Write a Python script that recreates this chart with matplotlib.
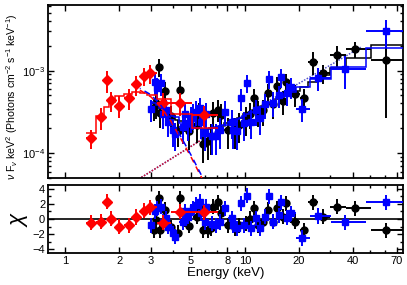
import numpy as np
import matplotlib
matplotlib.use("Agg")
import matplotlib.pyplot as plt
from matplotlib.ticker import FixedLocator, NullFormatter, LogLocator, MultipleLocator

plt.rcParams["font.family"] = ["Liberation Sans", "DejaVu Sans"]
plt.rcParams["mathtext.fontset"] = "custom"
plt.rcParams["mathtext.rm"] = "Liberation Sans"
plt.rcParams["mathtext.it"] = "Liberation Sans:italic"

# red data set (low energy instrument)
red_E = [1.39, 1.57, 1.70, 1.80, 1.99, 2.25, 2.48, 2.73, 2.96, 3.50, 4.33, 5.93]
red_F = [1.51e-4, 2.73e-4, 7.6e-4, 4.36e-4, 3.77e-4, 4.68e-4, 6.8e-4, 8.6e-4,
         9.3e-4, 4.07e-4, 4.07e-4, 2.88e-4]
red_frac = [0.25, 0.3, 0.3, 0.28, 0.3, 0.28, 0.28, 0.25, 0.25, 0.3, 0.3, 0.28]
red_model = [1.75e-4, 2.8e-4, 3.6e-4, 4.2e-4, 4.9e-4, 5.2e-4, 5.5e-4, 5.4e-4,
             5.1e-4, 4.5e-4, 3.0e-4, 2.0e-4]
red_chi = [-0.5, -0.35, 2.3, 0.05, -1.0, -0.8, 0.27, 1.07, 1.55, -0.5, 0.97, 0.9]
red_lims = (1.30, 7.1)

# black data set
blk_E = [3.11, 3.21, 3.31, 3.35, 3.61, 3.89, 4.24, 4.33, 4.88, 5.39, 5.53, 5.85,
         6.24, 6.46, 6.65, 7.09, 7.34, 8.07, 8.80, 9.30, 10.13, 10.67, 11.23,
         11.87, 12.65, 13.39, 14.28, 15.15, 16.24, 16.95, 19.02, 21.4, 23.9,
         27.4, 32.8, 41.2, 61.3]
blk_F = [3.5e-4, 4.0e-4, 1.12e-3, 3.1e-4, 5.6e-4, 2.8e-4, 1.85e-4, 5.75e-4,
         1.85e-4, 2.2e-4, 3.0e-4, 1.28e-4, 1.4e-4, 1.6e-4, 3.08e-4, 3.37e-4,
         2.94e-4, 1.9e-4, 1.9e-4, 2.2e-4, 2.6e-4, 3.0e-4, 4.6e-4, 3.2e-4,
         3.3e-4, 5.35e-4, 3.9e-4, 6.6e-4, 4.3e-4, 7.2e-4, 5.2e-4, 4.66e-4,
         1.28e-3, 9.3e-4, 1.54e-3, 1.81e-3, 1.34e-3]
blk_frac = [0.3, 0.35, 0.25, 0.35, 0.3, 0.35, 0.35, 0.3, 0.4, 0.4, 0.35, 0.4,
            0.4, 0.4, 0.35, 0.3, 0.35, 0.4, 0.4, 0.4, 0.38, 0.35, 0.3, 0.35,
            0.35, 0.3, 0.33, 0.28, 0.33, 0.28, 0.3, 0.28, 0.3, 0.25, 0.28,
            0.22, 0.8]
blk_model = [4.0e-4, 3.8e-4, 3.6e-4, 3.5e-4, 3.1e-4, 2.8e-4, 2.5e-4, 2.45e-4,
             2.15e-4, 2.05e-4, 2.0e-4, 1.98e-4, 1.98e-4, 2.0e-4, 2.02e-4,
             2.1e-4, 2.15e-4, 2.35e-4, 2.55e-4, 2.7e-4, 2.95e-4, 3.1e-4,
             3.3e-4, 3.5e-4, 3.7e-4, 3.95e-4, 4.2e-4, 4.5e-4, 4.85e-4, 5.05e-4,
             5.7e-4, 6.4e-4, 7.2e-4, 8.9e-4, 1.09e-3, 1.41e-3, 2.07e-3]
blk_chi = [-1.47, -0.13, 2.76, -1.47, 1.2, -1.1, -1.8, 2.76, -0.9, 0.3, 1.5,
           -1.47, -1.47, -1.2, 1.64, 2.2, 0.76, -0.8, -1.24, -0.8, -0.6, 0.0,
           1.43, -0.8, -0.36, 1.2, -0.36, 1.43, 0.3, 2.1, -0.36, -1.47, 2.2,
           0.3, 1.64, 1.43, -1.47]
blk_lims = (3.02, 78.0)

# blue data set
blu_E = [3.01, 3.14, 3.24, 3.42, 3.50, 3.65, 3.73, 3.98, 4.06, 4.52, 4.62,
         4.80, 5.04, 5.14, 5.37, 5.60, 5.73, 5.98, 6.11, 6.54, 6.89, 7.25,
         7.73, 8.43, 8.61, 9.06, 9.47, 9.87, 10.3, 10.8, 11.6, 12.2, 12.9,
         13.7, 14.4, 15.4, 16.0, 17.2, 18.1, 20.7, 25.4, 36.2, 61.3]
blu_F = [3.4e-4, 7.3e-4, 6.2e-4, 7.0e-4, 3.0e-4, 3.3e-4, 2.4e-4, 1.9e-4,
         1.7e-4, 2.1e-4, 3.0e-4, 2.3e-4, 2.7e-4, 2.9e-4, 3.2e-4, 3.5e-4,
         2.4e-4, 1.75e-4, 3.0e-4, 1.6e-4, 1.6e-4, 1.9e-4, 3.2e-4, 2.4e-4,
         1.9e-4, 1.85e-4, 4.66e-4, 2.3e-4, 7.06e-4, 2.4e-4, 3.3e-4, 2.7e-4,
         3.9e-4, 7.9e-4, 4.1e-4, 5.0e-4, 8.3e-4, 5.4e-4, 6.3e-4, 3.46e-4,
         8.2e-4, 1.04e-3, 3.0e-3]
blu_frac = [0.3, 0.3, 0.3, 0.3, 0.35, 0.35, 0.35, 0.38, 0.38, 0.38, 0.35,
            0.38, 0.35, 0.35, 0.33, 0.33, 0.38, 0.4, 0.35, 0.4, 0.4, 0.4,
            0.33, 0.38, 0.4, 0.4, 0.3, 0.38, 0.25, 0.38, 0.35, 0.38, 0.33,
            0.25, 0.33, 0.3, 0.25, 0.3, 0.28, 0.3, 0.3, 0.43, 0.37]
blu_model = [4.2e-4, 4.0e-4, 3.8e-4, 3.5e-4, 3.4e-4, 3.2e-4, 3.1e-4, 2.85e-4,
             2.75e-4, 2.35e-4, 2.3e-4, 2.2e-4, 2.1e-4, 2.08e-4, 2.03e-4,
             2.0e-4, 1.98e-4, 1.97e-4, 1.97e-4, 2.0e-4, 2.05e-4, 2.12e-4,
             2.22e-4, 2.4e-4, 2.45e-4, 2.6e-4, 2.7e-4, 2.85e-4, 3.0e-4,
             3.15e-4, 3.4e-4, 3.6e-4, 3.8e-4, 4.05e-4, 4.3e-4, 4.6e-4, 4.8e-4,
             5.2e-4, 5.5e-4, 6.3e-4, 7.9e-4, 1.1e-3, 1.9e-3]
blu_chi = [-0.8, 1.0, 1.43, 1.64, -0.36, 0.1, -1.0, -1.9, -2.36, -0.4, 1.0,
           0.3, 1.0, 1.43, 1.87, 2.3, 0.8, -0.4, 1.64, -0.6, -0.8, -0.4, 1.43,
           0.1, -0.8, -1.24, 2.1, -0.8, 3.1, -1.24, 0.1, -1.24, 0.3, 3.0,
           -0.36, 0.5, 2.2, 0.2, 0.76, -2.5, 0.4, -0.45, 2.2]
blu_lims = (2.95, 78.0)

# model components
bb_E = [2.6, 3.0, 3.4, 3.81, 4.52, 5.04, 5.73, 6.2]
bb_red = [5.8e-4, 4.8e-4, 3.6e-4, 2.6e-4, 1.35e-4, 8.8e-5, 5.1e-5, 3.3e-5]
bb_blue = [6.1e-4, 5.1e-4, 3.8e-4, 2.75e-4, 1.43e-4, 9.3e-5, 5.4e-5, 3.5e-5]
pl_E = [2.65, 5.6, 28.0, 44.7]
pl_F = [5.1e-5, 1.41e-4, 1.07e-3, 1.94e-3]

x_ticks = [1, 2, 3, 5, 8, 10, 20, 40, 70]
x_minor = [4, 6, 7, 9, 30, 50, 60]


def bin_edges(E, lims):
    E = np.asarray(E)
    mids = np.sqrt(E[:-1] * E[1:])
    return np.concatenate([[lims[0]], mids, [lims[1]]])


fig = plt.figure(figsize=(4.07, 2.85), dpi=100)
ax = fig.add_axes([0.118, 0.375, 0.872, 0.607])
axr = fig.add_axes([0.118, 0.112, 0.872, 0.239], sharex=ax)

sets = [
    (blk_E, blk_F, blk_frac, blk_model, blk_chi, blk_lims, "black", "o", 3),
    (blu_E, blu_F, blu_frac, blu_model, blu_chi, blu_lims, "#0000ff", "s", 4),
    (red_E, red_F, red_frac, red_model, red_chi, red_lims, "#ff0000", "D", 6),
]

for E, F, frac, model, chi, lims, col, mk, z in sets:
    E = np.asarray(E)
    F = np.asarray(F)
    edges = bin_edges(E, lims)
    xerr = [E - edges[:-1], edges[1:] - E]
    ax.errorbar(E, F, xerr=xerr, yerr=F * np.asarray(frac), fmt=mk, color=col,
                ms=5, elinewidth=1.4, capsize=0, zorder=z)
    ax.stairs(model, edges, baseline=None, color=col, lw=1.1, zorder=z + 0.5)
    axr.errorbar(E, chi, xerr=xerr, yerr=1.0, fmt=mk, color=col,
                 ms=5, elinewidth=1.4, capsize=0, zorder=z)

ax.plot(bb_E, bb_red, color="#ff0000", lw=1.1, ls=(0, (4, 3)), zorder=7)
ax.plot(bb_E, bb_blue, color="#0000ff", lw=1.1, ls=(3.5, (4, 3)), zorder=7)
ax.plot(pl_E, pl_F, color="#5050c8", lw=1.1, ls=(0, (1, 1)), zorder=2)
ax.plot(pl_E[:2], pl_F[:2], color="#d01030", lw=1.1, ls=(0, (1, 1)), zorder=2.5)

axr.axhline(0, color="black", lw=1.2, zorder=2)

ax.set_xscale("log")
ax.set_yscale("log")
ax.set_xlim(0.8, 76)
ax.set_ylim(5e-5, 6.2e-3)
axr.set_ylim(-4.5, 4.5)

axr.xaxis.set_major_locator(FixedLocator(x_ticks))
axr.xaxis.set_minor_locator(FixedLocator(x_minor))
axr.set_xticklabels([str(t) for t in x_ticks])
axr.xaxis.set_minor_formatter(NullFormatter())
plt.setp(ax.get_xticklabels(), visible=False)
ax.yaxis.set_minor_locator(LogLocator(subs=np.arange(2, 10)))
ax.yaxis.set_minor_formatter(NullFormatter())
axr.yaxis.set_major_locator(FixedLocator([-4, -2, 0, 2, 4]))
axr.yaxis.set_minor_locator(MultipleLocator(1))

for a in (ax, axr):
    a.tick_params(which="both", direction="in", top=True, right=True,
                  labelsize=8, width=1, pad=2)
    a.tick_params(which="major", length=4)
    a.tick_params(which="minor", length=2)
    for s in a.spines.values():
        s.set_linewidth(1.3)

ax.set_ylabel(r"$\nu$ F$_\nu$ keV$^2$ (Photons cm$^{-2}$ s$^{-1}$ keV$^{-1}$)",
              fontsize=7.6)
ax.yaxis.set_label_coords(-0.08, 0.47)
axr.set_ylabel(r"$\chi$", fontsize=16)
axr.yaxis.set_label_coords(-0.05, 0.5)
axr.set_xlabel("Energy (keV)", fontsize=9.5, labelpad=1)

fig.savefig("out.png", dpi=100)
